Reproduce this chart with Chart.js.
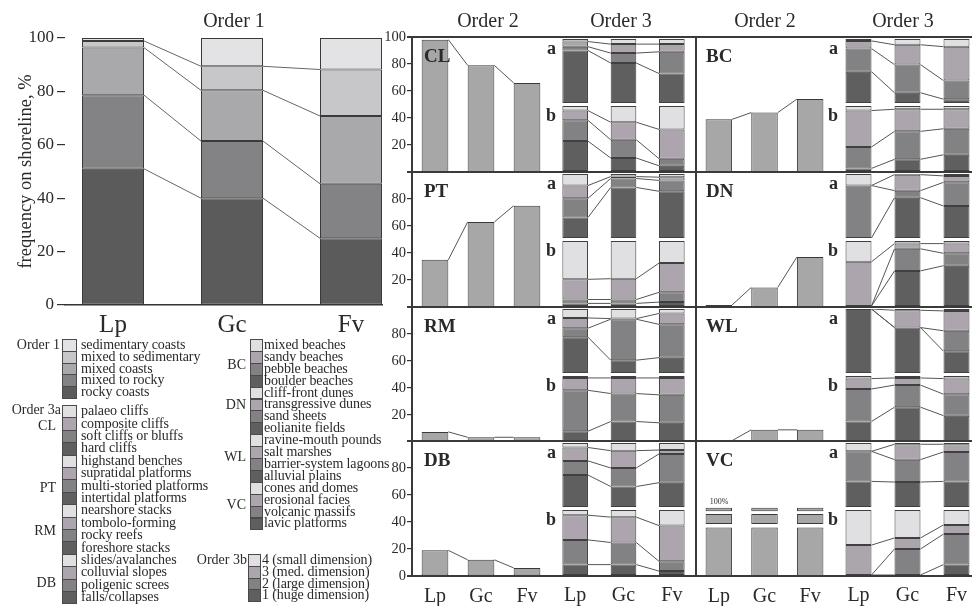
<!DOCTYPE html>
<html>
<head>
<meta charset="utf-8">
<script src="https://cdn.jsdelivr.net/npm/chart.js@4.4.1/dist/chart.umd.min.js"></script>
<style>
  body { margin: 0; width: 972px; height: 606px; background: #fff; overflow: hidden; position: relative;
         font-family: "Liberation Serif", "DejaVu Serif", serif; color: #2a2a2a; }
  .txt { position: absolute; white-space: nowrap; line-height: 1; }
  .title { font-size: 20px; transform: translate(-50%, -50%); }
  .panel { font-size: 19px; font-weight: bold; transform: translateY(-50%); }
  .ab { font-size: 18px; font-weight: bold; transform: translate(-100%, -50%); }
  .lg { font-size: 14px; letter-spacing: -0.1px; transform: translateY(-50%); }
  .grp { font-size: 14px; transform: translate(-100%, -50%); }
  .tiny { font-size: 8px; transform: translate(-50%, -50%); }
  .line { position: absolute; background: #3a3a3a; }
  .sw { position: absolute; box-sizing: border-box; border: 1px solid #4a4a4a; }
</style>
</head>
<body>
<script>
Chart.defaults.font.family = "'Liberation Serif', 'DejaVu Serif', serif";
Chart.defaults.color = "#2a2a2a";

const categories = ["Lp", "Gc", "Fv"];

// Order 1, bottom to top of the stack
const rockyCoasts = [51, 40, 25];
const mixedToRocky = [27.6, 21.4, 20.4];
const mixedCoasts = [17.8, 19, 25.4];
const mixedToSedimentary = [2.5, 9, 17.4];
const sedimentaryCoasts = [1.1, 10.6, 11.8];
const order1Names = ["sedimentary coasts", "mixed to sedimentary", "mixed coasts", "mixed to rocky", "rocky coasts"];
const order1Colors = ["#5b5b5b", "#838285", "#a9a8aa", "#c7c6c8", "#e3e2e4"];
const order1Ticks = [0, 20, 40, 60, 80, 100];

// Order 2, share of each class on the shoreline
const clOrder2 = [98, 79, 66];
const ptOrder2 = [35, 63, 75];
const rmOrder2 = [7.5, 3.5, 3.5];
const dbOrder2 = [19, 12, 6];
const bcOrder2 = [39, 44, 54];
const dnOrder2 = [1.5, 14.5, 37];
const wlOrder2 = [1, 9, 9];
// VC is 100% everywhere, drawn as a broken bar
const vcOrder2Parts = [[0, 36], [38.5, 46], [48, 50.5]];

// Order 3 a/b, rows: darkest class first (bottom), columns Lp Gc Fv
const clA = [[82, 62.5, 46], [6, 15.5, 34], [8, 14, 12], [4, 8, 8]];
const clB = [[46, 20, 8], [32, 28, 11], [15, 27, 45], [7, 25, 36]];
const ptA = [[32, 79, 73], [30, 14, 17], [20, 3, 5], [18, 4, 5]];
const ptB = [[4, 4, 6], [6, 6, 15], [31, 32, 45], [59, 58, 34]];
const rmA = [[56, 20, 24], [14, 64, 52], [16, 1, 17], [14, 15, 7]];
const rmB = [[15, 30, 28], [63, 43, 43], [19, 24, 26], [3, 3, 3]];
const dbA = [[50, 32, 38], [22, 29, 45], [21, 27, 6], [7, 12, 11]];
const dbB = [[16, 16, 6], [38, 34, 15], [38, 39, 55], [8, 11, 24]];
const bcA = [[49, 16, 6], [36, 44, 29], [12, 31, 53], [3, 9, 12]];
const bcB = [[4, 18, 25], [33, 43, 40], [56, 34, 30], [7, 5, 5]];
const dnA = [[0, 63, 50], [82, 11, 37], [0, 25, 10], [18, 1, 3]];
const dnB = [[0, 54, 62], [0, 34, 19], [68, 8, 15], [32, 4, 4]];
const wlA = [[100, 71, 34], [0, 0, 32], [0, 27, 31], [0, 2, 3]];
const wlB = [[30, 52, 39], [50, 34, 33], [16, 11, 24], [4, 3, 4]];
const vcA = [[40, 39, 40], [47, 35, 46], [0, 24, 12], [13, 2, 2]];
const vcB = [[0, 0, 16], [0, 40, 47], [46, 17, 14], [54, 43, 23]];
const order3Colors = ["#5f5f5f", "#828184", "#aca5ad", "#e0dfe2"];

const order2Ticks = [[20, 40, 60, 80, 100], [20, 40, 60, 80], [20, 40, 60, 80], [0, 20, 40, 60, 80]];

// legend names, top to bottom
const clNames = ["palaeo cliffs", "composite cliffs", "soft cliffs or bluffs", "hard cliffs"];
const ptNames = ["highstand benches", "supratidal platforms", "multi-storied platforms", "intertidal platforms"];
const rmNames = ["nearshore stacks", "tombolo-forming", "rocky reefs", "foreshore stacks"];
const dbNames = ["slides/avalanches", "colluvial slopes", "poligenic screes", "falls/collapses"];
const bcNames = ["mixed beaches", "sandy beaches", "pebble beaches", "boulder beaches"];
const dnNames = ["cliff-front dunes", "transgressive dunes", "sand sheets", "eolianite fields"];
const wlNames = ["ravine-mouth pounds", "salt marshes", "barrier-system lagoons", "alluvial plains"];
const vcNames = ["cones and domes", "erosional facies", "volcanic massifs", "lavic platforms"];
const order3bNames = ["4 (small dimension)", "3 (med. dimension)", "2 (large dimension)", "1 (huge dimension)"];

// lines joining the same boundary from one bar to the next
const linkLines = {
  id: "linkLines",
  afterDatasetsDraw(chart, args, opts) {
    if (!opts.show) return;
    const ctx = chart.ctx;
    const count = chart.data.datasets.length - (opts.skipTop ? 1 : 0);
    ctx.save();
    ctx.strokeStyle = opts.color || "#555";
    ctx.lineWidth = 1;
    for (let d = 0; d < count; d++) {
      const bars = chart.getDatasetMeta(d).data;
      for (let i = 0; i < bars.length - 1; i++) {
        const a = bars[i];
        const b = bars[i + 1];
        ctx.beginPath();
        ctx.moveTo(a.x + a.width / 2, a.y);
        ctx.lineTo(b.x - b.width / 2, b.y);
        ctx.stroke();
      }
    }
    ctx.restore();
  },
};

function makeCanvas(left, top, width, height) {
  const cv = document.createElement("canvas");
  cv.width = width;
  cv.height = height;
  cv.style.cssText = `position:absolute;left:${left}px;top:${top}px;width:${width}px;height:${height}px`;
  document.body.appendChild(cv);
  return cv;
}

function addText(text, left, top, cls) {
  const d = document.createElement("div");
  d.className = "txt " + cls;
  d.textContent = text;
  d.style.left = left + "px";
  d.style.top = top + "px";
  document.body.appendChild(d);
}

function addLine(left, top, width, height) {
  const d = document.createElement("div");
  d.className = "line";
  d.style.cssText = `left:${left}px;top:${top}px;width:${width}px;height:${height}px`;
  document.body.appendChild(d);
}

const baseOpts = {
  responsive: false,
  animation: false,
  events: [],
};

// Order 1
const order1Series = [rockyCoasts, mixedToRocky, mixedCoasts, mixedToSedimentary, sedimentaryCoasts];
new Chart(makeCanvas(0, 0, 383, 345), {
  type: "bar",
  data: {
    datasets: order1Series.map((vals, k) => ({
      data: vals.map((v, i) => ({ x: i, y: v })),
      backgroundColor: order1Colors[k],
      borderColor: "#3a3a3a",
      borderWidth: 1,
      borderSkipped: false,
      categoryPercentage: 1,
      barPercentage: 0.521,
    })),
  },
  options: {
    ...baseOpts,
    layout: { padding: { left: 12, top: 38, right: 1, bottom: 0 } },
    plugins: {
      legend: { display: false },
      tooltip: { enabled: false },
      linkLines: { show: true, skipTop: true, color: "#666" },
    },
    scales: {
      x: {
        type: "linear",
        stacked: true,
        offset: false,
        min: -0.4034,
        max: 2.2605,
        afterBuildTicks: (s) => { s.ticks = categories.map((c, i) => ({ value: i })); },
        ticks: { callback: (v) => categories[v], font: { size: 25 }, padding: 5, maxRotation: 0, autoSkip: false },
        grid: { display: false, drawTicks: false },
        border: { display: true, color: "#333", width: 1.5 },
        afterFit: (s) => { s.height = 40; s.paddingLeft = 0; s.paddingRight = 0; },
      },
      y: {
        stacked: true,
        min: 0,
        max: 100,
        afterBuildTicks: (s) => { s.ticks = order1Ticks.map((v) => ({ value: v })); },
        ticks: { font: { size: 17 }, padding: 3 },
        grid: { drawOnChartArea: false, tickLength: 8, color: "#333", lineWidth: 1.2 },
        border: { display: false },
        title: { display: true, text: "frequency on shoreline, %", font: { size: 18.5 }, padding: { top: 3, bottom: 0 } },
        afterFit: (s) => { s.width = 53; s.paddingTop = 0; s.paddingBottom = 0; },
      },
    },
  },
  plugins: [linkLines],
});

// panels of Order 2 and Order 3
const rowTops = [37, 172, 307, 441];
const rowH = 135;
const groupSetup = [
  { axisX: 412, o2Width: 138, o3Left: 551, o3Width: 145, abRight: 556, panelX: 424 },
  { axisX: 696, o2Width: 137, o3Left: 834, o3Width: 147, abRight: 838, panelX: 706 },
];
const panelTable = [
  [["CL", clOrder2, clA, clB], ["PT", ptOrder2, ptA, ptB], ["RM", rmOrder2, rmA, rmB], ["DB", dbOrder2, dbA, dbB]],
  [["BC", bcOrder2, bcA, bcB], ["DN", dnOrder2, dnA, dnB], ["WL", wlOrder2, wlA, wlB], ["VC", null, vcA, vcB]],
];

function xAxis(show) {
  return {
    stacked: true,
    display: show,
    grid: { display: false, drawTicks: false },
    border: { display: false },
    ticks: { font: { size: 20 }, padding: 9, maxRotation: 0 },
    afterFit: (s) => {
      if (!show) return;
      s.height = 34; s.paddingLeft = 0; s.paddingRight = 0;
    },
  };
}

function order2Chart(g, r, values) {
  const gs = groupSetup[g];
  const isBottom = r === 3;
  const axisW = g === 0 ? 29 : 0;
  const top = rowTops[r] - 10;
  const height = 10 + rowH + (isBottom ? 34 : 10);
  const cv = makeCanvas(gs.axisX - axisW, top, axisW + gs.o2Width, height);

  let datasets;
  if (values) {
    datasets = [{
      data: values,
      backgroundColor: "#a7a7a7",
      borderColor: "#3a3a3a",
      borderWidth: 1,
      borderSkipped: false,
      categoryPercentage: 1,
      barPercentage: 0.58,
    }];
  } else {
    datasets = vcOrder2Parts.map((part) => ({
      data: categories.map(() => part),
      backgroundColor: "#a7a7a7",
      borderColor: "#3a3a3a",
      borderWidth: 1,
      borderSkipped: false,
      grouped: false,
      categoryPercentage: 1,
      barPercentage: 0.58,
    }));
  }

  new Chart(cv, {
    type: "bar",
    data: { labels: categories, datasets },
    options: {
      ...baseOpts,
      layout: { padding: { left: 0, right: 0, top: 10, bottom: isBottom ? 0 : 10 } },
      plugins: {
        legend: { display: false },
        tooltip: { enabled: false },
        linkLines: { show: !!values, skipTop: false, color: "#555" },
      },
      scales: {
        x: { ...xAxis(isBottom), stacked: false },
        y: {
          display: g === 0,
          min: 0,
          max: 100,
          afterBuildTicks: (s) => { s.ticks = order2Ticks[r].map((v) => ({ value: v })); },
          ticks: { font: { size: 14.5 }, padding: 1 },
          grid: { drawOnChartArea: false, tickLength: 5, color: "#333", lineWidth: 1.2 },
          border: { display: false },
          afterFit: (s) => {
            if (g !== 0) return;
            s.width = axisW; s.paddingTop = 0; s.paddingBottom = 0;
          },
        },
      },
    },
    plugins: [linkLines],
  });
}

function order3Chart(left, top, width, height, rows, showLabels) {
  const cv = makeCanvas(left, top, width, height + (showLabels ? 34 : 0));
  new Chart(cv, {
    type: "bar",
    data: {
      labels: categories,
      datasets: rows.map((vals, k) => ({
        data: vals,
        backgroundColor: order3Colors[k],
        borderColor: "#404040",
        borderWidth: 1,
        borderSkipped: false,
        categoryPercentage: 1,
        barPercentage: 0.53,
      })),
    },
    options: {
      ...baseOpts,
      layout: { padding: 0 },
      plugins: {
        legend: { display: false },
        tooltip: { enabled: false },
        linkLines: { show: true, skipTop: true, color: "#555" },
      },
      scales: {
        x: xAxis(showLabels),
        y: { stacked: true, display: false, min: 0, max: 100 },
      },
    },
    plugins: [linkLines],
  });
}

groupSetup.forEach((gs, g) => {
  panelTable[g].forEach((p, r) => {
    const [name, o2, a, b] = p;
    const top = rowTops[r];
    order2Chart(g, r, o2);
    order3Chart(gs.o3Left, top + 2, gs.o3Width, 64, a, false);
    order3Chart(gs.o3Left, top + 69, gs.o3Width, 65, b, r === 3);
    addText(name, gs.panelX, top + 18, "panel");
    addText("a", gs.abRight, top + 11, "ab");
    addText("b", gs.abRight, top + 78, "ab");
  });
});
addText("100%", 719, 502, "tiny");

// frame
rowTops.concat([576]).forEach((y) => addLine(407, y - 1, 565, 2));
addLine(411, 36, 2, 541);
addLine(695, 36, 2, 541);

// titles
addText("Order 1", 234, 20, "title");
addText("Order 2", 488, 20, "title");
addText("Order 3", 621, 20, "title");
addText("Order 2", 765, 20, "title");
addText("Order 3", 903, 20, "title");

// legend
function legendBlock(names, colors, swX, swW, textX, y0, step) {
  names.forEach((name, i) => {
    const sw = document.createElement("div");
    sw.className = "sw";
    sw.style.cssText = `left:${swX}px;top:${y0 + i * step}px;width:${swW}px;height:${step + 1}px;background:${colors[i]}`;
    document.body.appendChild(sw);
    addText(name, textX, y0 + i * step + step / 2, "lg");
  });
}
const order3Legend = order3Colors.slice().reverse();
legendBlock(order1Names, order1Colors.slice().reverse(), 62, 15, 81, 339, 11.8);
addText("Order 1", 60, 345, "grp");

const leftClasses = [clNames, ptNames, rmNames, dbNames];
leftClasses.forEach((names, k) => legendBlock(names, order3Legend, 62, 15, 81, 405 + k * 4 * 12.4, 12.4));
addText("Order 3a", 61, 410, "grp");
[["CL", 426], ["PT", 488], ["RM", 531], ["DB", 583]].forEach(([t, y]) => addText(t, 56, y, "grp"));

const rightClasses = [bcNames, dnNames, wlNames, vcNames];
rightClasses.forEach((names, k) => legendBlock(names, order3Legend, 250, 13, 264, 339 + k * 4 * 11.9, 11.9));
[["BC", 365], ["DN", 405], ["WL", 457], ["VC", 505]].forEach(([t, y]) => addText(t, 246, y, "grp"));

legendBlock(order3bNames, order3Legend, 248, 13, 262, 554, 11.8);
addText("Order 3b", 247, 560, "grp");
</script>
</body>
</html>
